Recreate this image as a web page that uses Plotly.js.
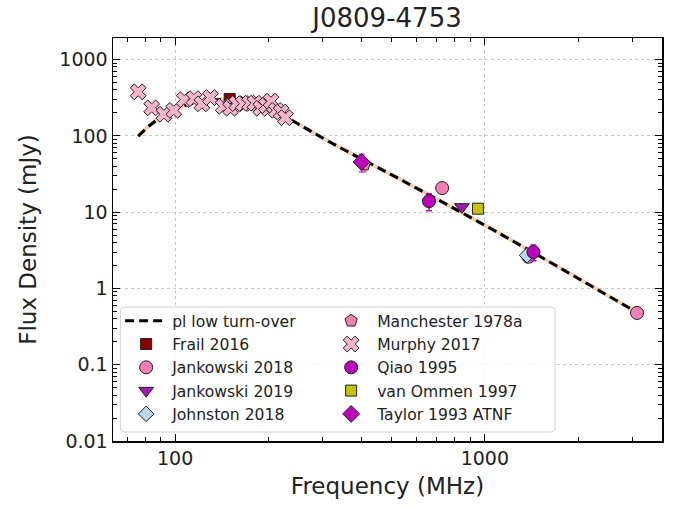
<!DOCTYPE html>
<html>
<head>
<meta charset="utf-8">
<script src="https://cdn.plot.ly/plotly-3.0.1.min.js"></script>
<style>html,body{margin:0;padding:0;background:#fff;}#chart{width:685px;height:506px;}</style>
</head>
<body>
<div id="chart"></div>
<script>
// Fit curve (pl low turn-over)
var fitFreq = [76, 83, 93, 108, 130, 150, 174, 202, 235, 316, 532, 1117, 3092];
var fitFlux = [99, 138, 192, 252, 293, 297, 275, 230, 165, 83, 27, 5.24, 0.486];

var frailFreq = [150];   var frailFlux = [305];  var frailErr = [30];
var jank18Freq = [728, 1382, 3100]; var jank18Flux = [20.7, 2.6, 0.477]; var jank18Err = [2.0, 0.3, 0.05];
var jank19Freq = [843];  var jank19Flux = [11.7]; var jank19Err = [1.0];
var johnFreq = [1369];   var johnFlux = [2.72];
var manchFreq = [408];   var manchFlux = [42];   var manchErr = [8];
var murphyFreq = [76, 84, 92, 99, 107, 115, 122, 130, 143, 151, 158, 166, 174, 181, 189, 197, 204, 212, 220, 227];
var murphyFlux = [378, 233, 192, 216, 299, 308, 263, 318, 244, 230, 265, 265, 268, 268, 230, 250, 285, 216, 205, 173];
var qiaoFreq = [660, 1435]; var qiaoFlux = [13.9, 3.0]; var qiaoErr = [3.5, 0.7];
var vanFreq = [950];     var vanFlux = [11.1];   var vanErr = [0.8];
var taylorFreq = [400];  var taylorFlux = [45.5]; var taylorErr = [12];

var FONT = 'DejaVu Sans, sans-serif';
var EDGE = {color: '#222', width: 1};

function pts(name, x, y, err, symbol, color, size, ecolor, rank) {
  var t = {
    type: 'scatter', mode: 'markers', name: name, x: x, y: y,
    marker: {symbol: symbol, color: color, size: size, line: EDGE},
    legendrank: rank
  };
  if (err) t.error_y = {type: 'data', array: err, visible: true, color: ecolor, thickness: 1.5, width: 3};
  return t;
}

var traces = [
  {type: 'scatter', mode: 'lines', x: fitFreq, y: fitFlux, showlegend: false, hoverinfo: 'skip',
   line: {color: '#f3d3b3', width: 4, shape: 'spline', smoothing: 1}},
  {type: 'scatter', mode: 'lines', name: 'pl low turn-over', x: fitFreq, y: fitFlux,
   line: {color: '#000', width: 3, dash: '9px,5px', shape: 'spline', smoothing: 1}, legendrank: 1},
  pts('Frail 2016', frailFreq, frailFlux, frailErr, 'square', '#8b0000', 11, '#8b0000', 3),
  pts('Jankowski 2018', jank18Freq, jank18Flux, jank18Err, 'circle', '#f77db8', 13, '#f77db8', 5),
  pts('Jankowski 2019', jank19Freq, jank19Flux, jank19Err, 'triangle-down', '#a516b5', 13, '#d040d0', 7),
  pts('Johnston 2018', johnFreq, johnFlux, null, 'diamond', '#b8d8f0', 12, null, 9),
  pts('Manchester 1978a', manchFreq, manchFlux, manchErr, 'pentagon', '#f080b0', 13, '#f080b0', 2),
  pts('Murphy 2017', murphyFreq, murphyFlux, null, 'x', '#f8b4cc', 14, null, 4),
  pts('Qiao 1995', qiaoFreq, qiaoFlux, qiaoErr, 'circle', '#bf00bf', 13, '#bf00bf', 6),
  pts('van Ommen 1997', vanFreq, vanFlux, vanErr, 'square', '#c4c400', 11, '#c4c400', 8),
  pts('Taylor 1993 ATNF', taylorFreq, taylorFlux, taylorErr, 'diamond', '#bf00bf', 13, '#d040d0', 10)
];

var axisCommon = {
  type: 'log', showline: true, linecolor: '#000', linewidth: 1.5, mirror: 'ticks',
  ticks: 'inside', ticklen: 7, tickwidth: 1.2, tickcolor: '#000', dtick: 1,
  exponentformat: 'none', showgrid: true, gridcolor: '#c8c8c8', griddash: 'dot', gridwidth: 1,
  zeroline: false, tickfont: {family: FONT, size: 19, color: '#222'},
  minor: {ticks: 'inside', ticklen: 4, tickwidth: 1, tickcolor: '#000', dtick: 'D1', showgrid: false}
};

var layout = {
  width: 685, height: 506,
  margin: {l: 113, r: 23, t: 38, b: 65},
  paper_bgcolor: '#fff', plot_bgcolor: '#fff',
  font: {family: FONT, color: '#222'},
  title: {text: 'J0809-4753', font: {family: FONT, size: 26, color: '#222'}, x: 0.565, xanchor: 'center', y: 0.965, yanchor: 'middle'},
  xaxis: Object.assign({}, axisCommon, {
    range: [Math.log10(63), Math.log10(3733)],
    title: {text: 'Frequency (MHz)', font: {family: FONT, size: 23, color: '#222'}, standoff: 9}
  }),
  yaxis: Object.assign({}, axisCommon, {
    range: [-2, Math.log10(1919)],
    title: {text: 'Flux Density (mJy)', font: {family: FONT, size: 23, color: '#222'}, standoff: 16}
  }),
  shapes: [{
    type: 'path', xref: 'paper', yref: 'paper', layer: 'above',
    path: 'M 0.0133 0.0323 L 0.0133 0.3225 Q 0.0133 0.3325 0.0233 0.3325 L 0.7951 0.3325 Q 0.8051 0.3325 0.8051 0.3225 L 0.8051 0.0323 Q 0.8051 0.0223 0.7951 0.0223 L 0.0233 0.0223 Q 0.0133 0.0223 0.0133 0.0323 Z',
    fillcolor: 'rgba(255,255,255,0.85)', line: {color: '#d0d0d0', width: 1}
  }],
  showlegend: true,
  legend: {
    orientation: 'h', x: 0.013, y: 0.0245, xanchor: 'left', yanchor: 'bottom',
    bgcolor: 'rgba(0,0,0,0)', borderwidth: 0,
    itemwidth: 42, entrywidth: 148, entrywidthmode: 'pixels',
    font: {family: FONT, size: 15.6, color: '#222'}, traceorder: 'normal'
  }
};

Plotly.newPlot('chart', traces, layout, {displayModeBar: false, staticPlot: true});
</script>
</body>
</html>
